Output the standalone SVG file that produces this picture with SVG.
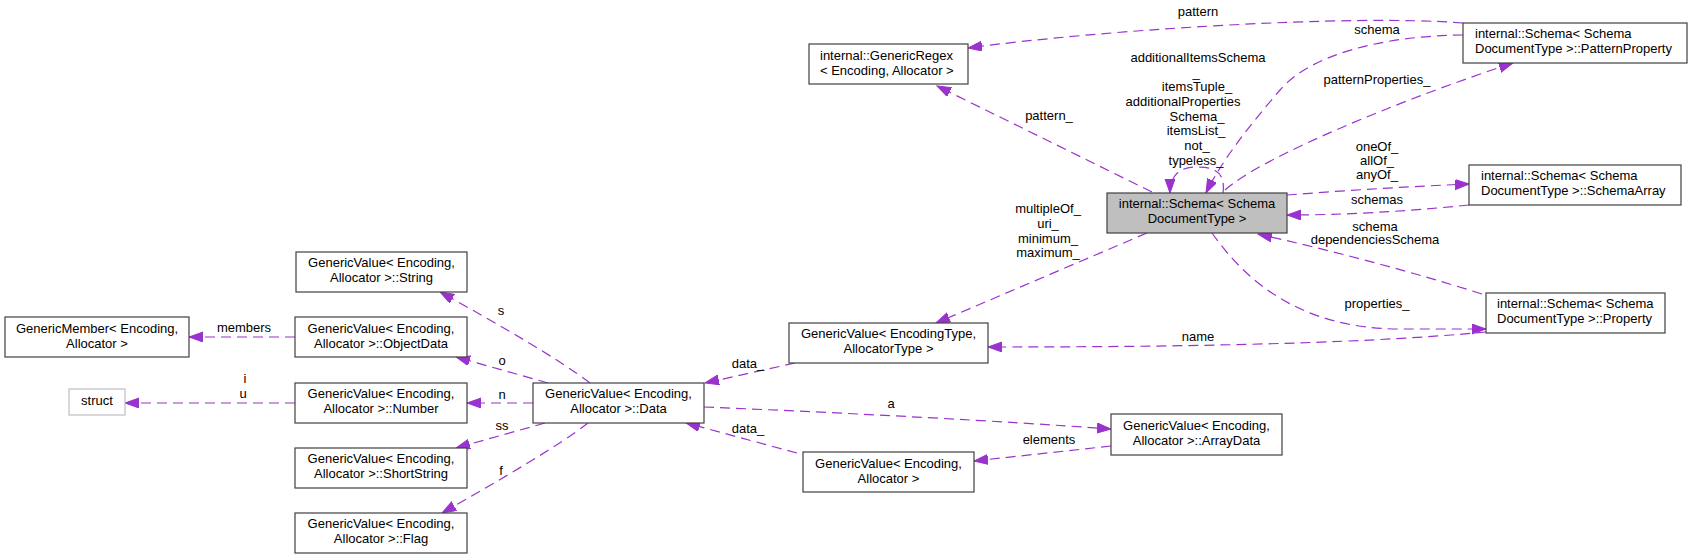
<svg xmlns="http://www.w3.org/2000/svg" width="1692" height="559" viewBox="0 0 1692 559">
<defs>
<style>
text{font-family:"Liberation Sans",Arial,sans-serif;font-size:13px;fill:#000}
.c{text-anchor:middle}
.box{fill:#fff;stroke:#404040;stroke-width:1.2}
.main{fill:#bfbfbf;stroke:#404040;stroke-width:1.2}
.gray{fill:#fff;stroke:#bfbfbf;stroke-width:1.2}
.e{fill:none;stroke:#9a32cd;stroke-width:1.2;stroke-dasharray:10,6;marker-end:url(#ah)}
</style>
<marker id="ah" markerUnits="userSpaceOnUse" markerWidth="15" markerHeight="11" refX="14" refY="5" orient="auto" viewBox="0 0 15 11">
<path d="M0,0 L14,5 L0,10 z" fill="#9a32cd" stroke="#9a32cd" stroke-width="1"/>
</marker>
</defs>
<rect width="1692" height="559" fill="#fff"/>
<g id="connectors">
<path class="e" d="M1463,23 C1350,14 1100,30 968,48"/>
<text class="c" x="1198" y="16">pattern</text>
<path class="e" d="M1152,192 L937,86"/>
<text class="c" x="1049" y="120">pattern_</text>
<path class="e" d="M1463,35 C1380,36 1310,55 1280,90 C1250,125 1222,160 1206,193"/>
<text class="c" x="1377" y="34">schema</text>
<path class="e" d="M1223,193 C1226,170 1212,167 1196,167 C1180,167 1170,175 1170,193"/>
<text class="c" x="1198" y="62">additionalItemsSchema</text>
<text class="c" x="1196" y="76.5">_</text>
<text class="c" x="1197" y="91">itemsTuple_</text>
<text class="c" x="1183" y="106">additionalProperties</text>
<text class="c" x="1197" y="120.5">Schema_</text>
<text class="c" x="1196" y="135">itemsList_</text>
<text class="c" x="1197" y="150">not_</text>
<text class="c" x="1196" y="164.5">typeless_</text>
<path class="e" d="M1225,190 C1260,158 1400,100 1513,63"/>
<text class="c" x="1377" y="84">patternProperties_</text>
<path class="e" d="M1287,195 C1350,190 1420,186 1469,184"/>
<text class="c" x="1377" y="150.5">oneOf_</text>
<text class="c" x="1377" y="164.5">allOf_</text>
<text class="c" x="1377" y="179">anyOf_</text>
<path class="e" d="M1469,205 C1400,212 1340,215 1287,215"/>
<text class="c" x="1377" y="204">schemas</text>
<path class="e" d="M1482,294 C1400,268 1320,248 1258,234"/>
<text class="c" x="1375" y="230.5">schema</text>
<text class="c" x="1375" y="244">dependenciesSchema</text>
<path class="e" d="M1212,233 C1245,280 1300,329 1400,329 L1486,329"/>
<text class="c" x="1377" y="308">properties_</text>
<path class="e" d="M1147,233 L936,323"/>
<text class="c" x="1048" y="213">multipleOf_</text>
<text class="c" x="1048" y="228">uri_</text>
<text class="c" x="1048" y="242.5">minimum_</text>
<text class="c" x="1048" y="257">maximum_</text>
<path class="e" d="M1486,332 C1350,345 1150,347 988,347"/>
<text class="c" x="1198" y="341">name</text>
<path class="e" d="M795,363 L705,383"/>
<text class="c" x="748" y="368">data_</text>
<path class="e" d="M704,407 C850,413 1000,421 1111,429"/>
<text class="c" x="891" y="408">a</text>
<path class="e" d="M1111,446 L974,461"/>
<text class="c" x="1049" y="444">elements</text>
<path class="e" d="M797,453 L686,423"/>
<text class="c" x="748" y="433">data_</text>
<path class="e" d="M590,383 C560,360 500,325 440,292"/>
<text class="c" x="501" y="315">s</text>
<path class="e" d="M548,383 L456,357"/>
<text class="c" x="502" y="365">o</text>
<path class="e" d="M533,403 L467,403"/>
<text class="c" x="502" y="399">n</text>
<path class="e" d="M545,423 L456,448"/>
<text class="c" x="502" y="430">ss</text>
<path class="e" d="M588,423 C560,445 500,480 442,513"/>
<text class="c" x="501" y="475">f</text>
<path class="e" d="M295,337 L189,337"/>
<text class="c" x="244" y="332">members</text>
<path class="e" d="M295,403 L125,403"/>
<text class="c" x="245" y="383">i</text>
<text class="c" x="243" y="398">u</text>
</g>
<g id="n_schema"><rect class="main" x="1107" y="193" width="180" height="40"/><text class="c" x="1197" y="208">internal::Schema&lt; Schema</text><text class="c" x="1197" y="223">DocumentType &gt;</text></g>
<g id="n_regex"><rect class="box" x="809" y="44" width="159" height="40"/><text x="820" y="60">internal::GenericRegex</text><text x="820" y="75">&lt; Encoding, Allocator &gt;</text></g>
<g id="n_patternproperty"><rect class="box" x="1463" y="23" width="224" height="40"/><text x="1475" y="38">internal::Schema&lt; Schema</text><text x="1475" y="53">DocumentType &gt;::PatternProperty</text></g>
<g id="n_schemaarray"><rect class="box" x="1469" y="165" width="212" height="40"/><text x="1481" y="180">internal::Schema&lt; Schema</text><text x="1481" y="195">DocumentType &gt;::SchemaArray</text></g>
<g id="n_property"><rect class="box" x="1486" y="293" width="179" height="40"/><text x="1497" y="308">internal::Schema&lt; Schema</text><text x="1497" y="323">DocumentType &gt;::Property</text></g>
<g id="n_gvtype"><rect class="box" x="789" y="323" width="199" height="40"/><text class="c" x="888.5" y="338">GenericValue&lt; EncodingType,</text><text class="c" x="888.5" y="353">AllocatorType &gt;</text></g>
<g id="n_data"><rect class="box" x="533" y="383" width="171" height="40"/><text class="c" x="618.5" y="398">GenericValue&lt; Encoding,</text><text class="c" x="618.5" y="413">Allocator &gt;::Data</text></g>
<g id="n_arraydata"><rect class="box" x="1111" y="414" width="171" height="41"/><text class="c" x="1196.5" y="430">GenericValue&lt; Encoding,</text><text class="c" x="1196.5" y="445">Allocator &gt;::ArrayData</text></g>
<g id="n_gv"><rect class="box" x="803" y="452" width="171" height="40"/><text class="c" x="888.5" y="468">GenericValue&lt; Encoding,</text><text class="c" x="888.5" y="483">Allocator &gt;</text></g>
<g id="n_string"><rect class="box" x="296" y="252" width="171" height="40"/><text class="c" x="381.5" y="267">GenericValue&lt; Encoding,</text><text class="c" x="381.5" y="282">Allocator &gt;::String</text></g>
<g id="n_objectdata"><rect class="box" x="295" y="317" width="172" height="40"/><text class="c" x="381" y="332.5">GenericValue&lt; Encoding,</text><text class="c" x="381" y="347.5">Allocator &gt;::ObjectData</text></g>
<g id="n_member"><rect class="box" x="5" y="317" width="184" height="40"/><text class="c" x="97" y="332.5">GenericMember&lt; Encoding,</text><text class="c" x="97" y="347.5">Allocator &gt;</text></g>
<g id="n_number"><rect class="box" x="295" y="383" width="172" height="40"/><text class="c" x="381" y="398">GenericValue&lt; Encoding,</text><text class="c" x="381" y="413">Allocator &gt;::Number</text></g>
<g id="n_struct"><rect class="gray" x="69" y="389" width="56" height="26"/><text class="c" x="97" y="405">struct</text></g>
<g id="n_shortstring"><rect class="box" x="295" y="448" width="172" height="40"/><text class="c" x="381" y="463">GenericValue&lt; Encoding,</text><text class="c" x="381" y="478">Allocator &gt;::ShortString</text></g>
<g id="n_flag"><rect class="box" x="295" y="513" width="172" height="40"/><text class="c" x="381" y="528">GenericValue&lt; Encoding,</text><text class="c" x="381" y="543">Allocator &gt;::Flag</text></g>
</svg>
